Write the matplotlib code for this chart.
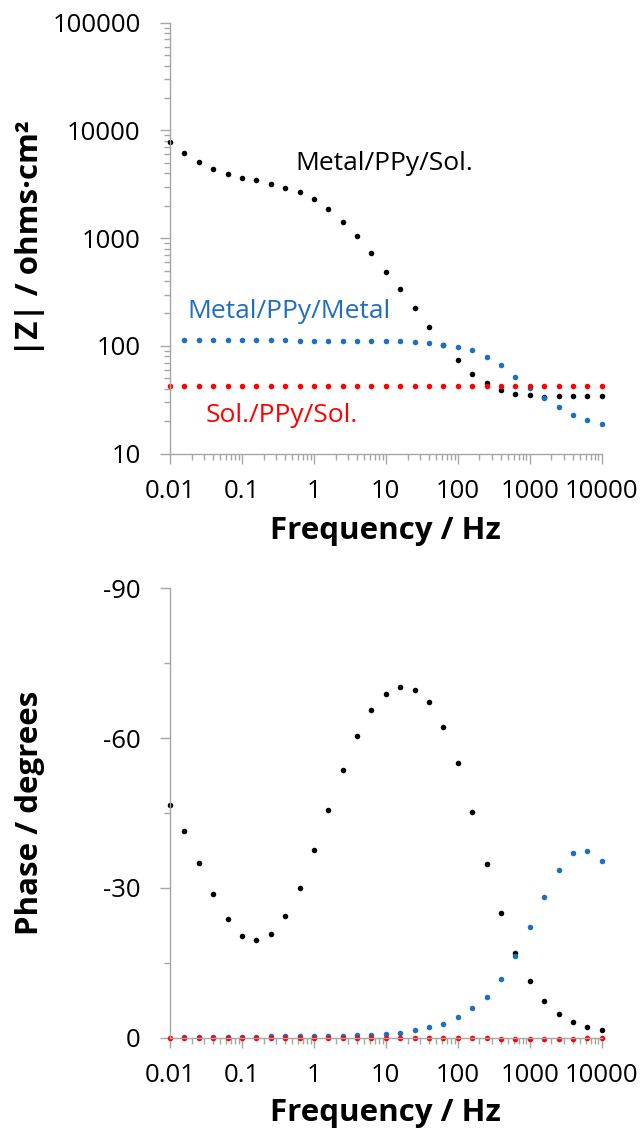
import matplotlib
matplotlib.use('Agg')
import matplotlib.pyplot as plt
from matplotlib.ticker import FuncFormatter, NullFormatter, LogLocator, MultipleLocator

plt.rcParams.update({
    "font.family": ["Open Sans", "DejaVu Sans"],
    "font.size": 17,
    "axes.unicode_minus": False,
})

C_BLACK = "#000000"
C_BLUE = "#1F6FBF"
C_RED = "#FF0000"
C_AXIS = "#A6A6A6"

W, H = 641, 1135

# frequencies (Hz), 5 points per decade
freq = [0.01, 0.0158, 0.0251, 0.0398, 0.0631, 0.1, 0.158, 0.251, 0.398, 0.631,
        1, 1.58, 2.51, 3.98, 6.31, 10, 15.8, 25.1, 39.8, 63.1,
        100, 158, 251, 398, 631, 1000, 1580, 2510, 3980, 6310, 10000]
freq_blue = freq[1:]   # Metal/PPy/Metal starts at the second frequency

# |Z| in ohms·cm2
z_sol = [7870, 6140, 5060, 4360, 3920, 3650, 3450, 3200, 2940, 2670,
         2300, 1850, 1420, 1040, 724, 489, 336, 225, 150, 102,
         74, 55, 45, 39, 36, 35, 33.8, 34, 34, 34, 34]
z_metal = [113, 113, 113, 114, 113, 113, 113, 113, 112,
           112, 111, 111, 111, 111, 111, 111, 109, 106, 102,
           98, 91, 79, 66, 52, 41, 33, 27, 23, 20.6, 18.9]
z_solsol = [42.3, 42.3, 42.3, 42.3, 42.3, 42.3, 42.3, 42.3, 42.3, 42.3,
            42.3, 42.3, 42.3, 42.3, 42.3, 42.3, 42.3, 42.3, 42.3, 42.3,
            42.3, 42.3, 42.3, 42.3, 42.3, 42.3, 42.3, 42.3, 42.3, 42.3, 42.3]

# phase in degrees
ph_sol = [-46.7, -41.3, -34.9, -28.7, -23.7, -20.4, -19.5, -20.8, -24.4, -30.0,
          -37.5, -45.6, -53.7, -60.4, -65.6, -68.8, -70.3, -69.7, -67.2, -62.3,
          -55.0, -45.3, -34.7, -24.9, -17.0, -11.3, -7.3, -4.8, -3.1, -2.1, -1.5]
ph_metal = [-0.1, -0.1, -0.1, -0.1, -0.2, -0.2, -0.3, -0.3, -0.4,
            -0.4, -0.4, -0.4, -0.6, -0.6, -0.8, -1.0, -1.5, -2.1, -2.8,
            -4.1, -5.9, -8.2, -11.8, -16.3, -22.1, -28.2, -33.5, -37.0, -37.4, -35.4]
ph_solsol = [0.1, 0.1, 0.1, 0.1, 0.1, 0.1, 0.1, 0.1, 0.1, 0.1,
             0.1, 0.1, 0.1, 0.1, 0.1, 0.1, 0.1, 0.1, 0.1, 0.1,
             0.1, 0.1, 0.1, 0.3, 0.3, 0.3, 0.2, 0.2, 0.2, 0.1, 0.1]

x_ticks = [0.01, 0.1, 1, 10, 100, 1000, 10000]

fig = plt.figure(figsize=(W / 100, H / 100), dpi=100)
ax1 = fig.add_axes([0.2652, 0.6003, 0.6735, 0.3797])
ax2 = fig.add_axes([0.2652, 0.0857, 0.6735, 0.3960])

mk = dict(marker='o', ls='none', ms=4.0, mew=0, clip_on=False)


def style(ax):
    for s in ("top", "right"):
        ax.spines[s].set_visible(False)
    for s in ("left", "bottom"):
        ax.spines[s].set_color(C_AXIS)
        ax.spines[s].set_linewidth(1.0)
    ax.set_xscale("log")
    ax.set_xlim(0.01, 10000)
    ax.set_xticks(x_ticks)
    ax.xaxis.set_minor_locator(LogLocator(base=10, subs=range(2, 10), numticks=50))
    ax.xaxis.set_major_formatter(FuncFormatter(lambda v, p: f"{v:g}"))
    ax.xaxis.set_minor_formatter(NullFormatter())
    ax.tick_params(which="major", direction="out", length=7, width=1, color=C_AXIS,
                   labelsize=18.5, pad=11)
    ax.tick_params(which="minor", direction="out", length=4.5, width=1, color=C_AXIS)
    ax.tick_params(axis="y", which="major", pad=14)


def label_at(px, py, text, color):
    # place a series label at a pixel position measured from the top-left
    fig.text(px / W, 1 - py / H, text, fontsize=19, color=color,
             va="center", ha="left")


# ── |Z| plot ──
style(ax1)
ax1.plot(freq, z_sol, color=C_BLACK, **mk)
ax1.plot(freq_blue, z_metal, color=C_BLUE, **mk)
ax1.plot(freq, z_solsol, color=C_RED, **mk)
ax1.set_yscale("log")
ax1.set_ylim(10, 100000)
ax1.yaxis.set_major_formatter(FuncFormatter(lambda v, p: f"{v:g}"))
ax1.yaxis.set_minor_formatter(NullFormatter())
ax1.set_xlabel("Frequency / Hz", fontsize=22.5, fontweight="bold", va="center")
ax1.xaxis.set_label_coords(0.5, -0.18)
ax1.set_ylabel("|Z| / ohms·cm²", fontsize=22.5, fontweight="bold", va="center")
ax1.yaxis.set_label_coords(-0.325, 0.5)

label_at(295, 163, "Metal/PPy/Sol.", C_BLACK)
label_at(187, 312, "Metal/PPy/Metal", C_BLUE)
label_at(206, 415, "Sol./PPy/Sol.", C_RED)

# ── phase plot ──
style(ax2)
ax2.plot(freq, ph_sol, color=C_BLACK, **mk)
ax2.plot(freq_blue, ph_metal, color=C_BLUE, **mk)
ax2.plot(freq, ph_solsol, color=C_RED, **mk)
ax2.set_ylim(0, -90)
ax2.yaxis.set_major_locator(MultipleLocator(30))
ax2.yaxis.set_minor_locator(MultipleLocator(15))
ax2.yaxis.set_major_formatter(FuncFormatter(lambda v, p: f"{v:g}"))
ax2.set_xlabel("Frequency / Hz", fontsize=22.5, fontweight="bold", va="center")
ax2.xaxis.set_label_coords(0.5, -0.168)
ax2.set_ylabel("Phase / degrees", fontsize=22.5, fontweight="bold", va="center")
ax2.yaxis.set_label_coords(-0.325, 0.5)

fig.savefig("out.png", dpi=100)
plt.close(fig)
